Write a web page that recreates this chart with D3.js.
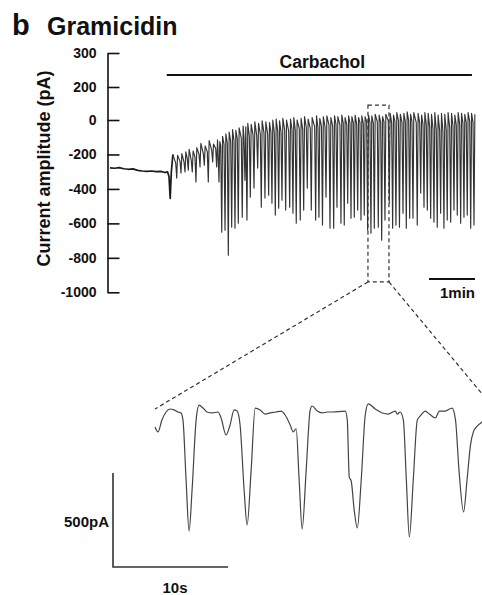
<!DOCTYPE html>
<html><head><meta charset="utf-8">
<script src="https://cdn.jsdelivr.net/npm/d3@7"></script>
<style>
html,body{margin:0;padding:0;background:#fff;}
text{font-family:"Liberation Sans",Arial,Helvetica,sans-serif;font-weight:bold;fill:#111;}
</style></head>
<body>
<script>
// ---------- data ----------
const yTickValues = [300, 200, 0, -200, -400, -600, -800, -1000];
// baseline before carbachol (time s, current pA)
const preT = [0, 6, 12, 18, 24, 30, 36, 42, 48, 54, 60, 66, 72, 75, 77, 78.5, 80, 82];
const preV = [-278, -280, -276, -283, -286, -284, -292, -296, -298, -296, -300, -298, -305, -300, -330, -455, -300, -200];
// spikes after carbachol
const spikeT = [87, 92.6, 97.8, 102.1, 107.3, 112.1, 117.4, 123, 128.2, 133.9, 139.1, 142.1, 145.7, 150, 154.3, 158.7, 163, 167.3, 172.5, 176,
  178.6, 183, 187.8, 192.6, 197.3, 202.1, 206.9, 211.2, 215.6, 220, 224.3, 229.1, 234.3, 238.6, 242.9, 248.1, 252.6, 257.3, 262.5, 268.2,
  272.5, 277.1, 281.7, 286.9, 291.7, 296, 301.2, 305.5, 310, 314.3, 318.6, 323, 327.3, 331.6, 336, 340.3, 344.7, 349.9, 354.3, 358.6,
  364.2, 368.6, 372.9, 377.5, 382.1, 386.4, 390.8, 395.1, 400.7, 405.2, 409.5, 413.8, 418.2, 422.5, 426.8, 431.2, 435.5, 439.8, 444.3, 448.6,
  452.9, 457.3, 461.6, 465.9, 470.4, 474.7];
const spikeMin = [-337, -308, -302, -291, -302, -360, -273, -262, -360, -244, -273, -360, -651, -640, -785, -622, -628, -599, -564, -349,
  -581, -448, -395, -279, -506, -453, -436, -483, -552, -512, -465, -523, -506, -541, -599, -581, -523, -395, -523, -581,
  -564, -610, -448, -628, -628, -506, -599, -610, -483, -570, -564, -523, -581, -552, -640, -657, -628, -622, -698, -581,
  -483, -628, -610, -622, -541, -628, -570, -570, -610, -424, -506, -523, -570, -593, -622, -541, -628, -581, -593, -523,
  -552, -599, -564, -552, -628, -610];
const spikeBase = [-250, -240, -245, -225, -235, -215, -200, -195, -185, -175, -165, -170, -150, -140, -135, -125, -120, -110, -105, -100,
  -100, -95, -85, -90, -80, -75, -80, -70, -75, -65, -70, -60, -65, -55, -60, -50, -55, -45, -50, -40,
  -45, -35, -40, -30, -35, -25, -30, -20, -25, -20, -15, -25, -15, -20, -10, -15, -20, -10, -15, -10,
  -5, -15, -10, -5, -15, -10, -5, -10, -15, -20, -25, -30, -40, -50, -55, -60, -70, -60, -45, -35,
  -30, -25, -20, -15, -10, -15];
const spikePeak = [-205, -195, -185, -170, -180, -160, -135, -150, -120, -140, -115, -125, -95, -80, -70, -55, -60, -45, -35, -40,
  -20, -25, -10, -20, -5, -10, -15, 0, 5, -5, 10, 0, 5, 15, 0, 10, 20, 5, 15, 25,
  10, 20, 25, 15, 25, 20, 30, 15, 25, 20, 30, 15, 25, 20, 30, 25, 35, 30, 20, 35,
  40, 30, 45, 35, 40, 50, 35, 45, 40, 30, 45, 40, 35, 45, 30, 40, 35, 45, 40, 30,
  45, 40, 35, 45, 40, 35];
const carbachol = [74, 472];
const zoomWindow = [336.4, 363.8];
const zoomCurrent = [90, -940];
const scaleBarMain = [416, 476]; // 1 min
// expanded trace (time s within window, current pA)
const insetT = [0, 0.26, 0.6, 0.96, 1.3, 1.65, 2.0, 2.26, 2.43, 2.7, 2.96, 3.22, 3.57, 3.83, 4.17, 4.52, 4.96, 5.48, 5.74, 6.17,
  6.52, 6.87, 7.13, 7.39, 7.74, 8.0, 8.35, 8.7, 9.13, 9.57, 10.0, 10.5, 10.96, 11.3, 11.74, 12.0, 12.26, 12.52, 12.78, 13.13,
  13.48, 13.65, 14.09, 14.52, 14.96, 15.39, 16.52, 16.7, 16.87, 17.04, 17.3, 17.57, 17.91, 18.26, 18.52, 19.13, 19.74, 20.26, 20.87, 21.04,
  21.3, 21.57, 21.83, 22.09, 22.43, 22.78, 23.04, 23.48, 23.83, 24.35, 24.7, 25.2, 25.8, 26.1, 26.4, 26.8, 27.1, 27.4, 27.65, 28.0, 28.4, 28.87];
const insetV = [-80, -106, -43, 0, 16, 11, 0, -5, -43, -362, -633, -415, -43, 37, 21, 0, -5, 0, -32, -122,
  -69, 11, 5, -69, -415, -601, -309, 21, 11, -11, -5, 0, 5, -16, -69, -106, -90, -362, -622, -309,
  11, 32, 5, -5, 0, 0, 5, -43, -346, -367, -521, -617, -362, -16, 43, 16, -5, -11, 5, -11,
  0, -43, -362, -665, -362, -43, -21, 5, -11, -32, 5, 5, 21, -43, -309, -532, -362, -176, -106, -74, -53, -16];
const insetScaleBar = { current: 500, time: 10 };

// ---------- drawing ----------
const W = 482, H = 595;
const svg = d3.select("body").append("svg").attr("width", W).attr("height", H);

const x = d3.scaleLinear().domain([0, 476]).range([110, 475]);
const y = d3.scaleLinear().domain([-1000, 0, 200, 300]).range([292.3, 120, 87, 53]);

// title
svg.append("text").attr("x", 12).attr("y", 35).style("font-size", "29px").text("b");
svg.append("text").attr("x", 47).attr("y", 35).style("font-size", "25px").text("Gramicidin");

// y axis
const axisX = 107.5;
const yAxis = d3.axisLeft(y).tickValues(yTickValues).tickSizeInner(-12).tickSizeOuter(0).tickPadding(11).tickFormat(d => String(d));
const ga = svg.append("g").attr("transform", `translate(${axisX},0)`).call(yAxis);
ga.select(".domain").attr("stroke", "#111").attr("stroke-width", 1.6);
ga.selectAll(".tick line").attr("stroke", "#111").attr("stroke-width", 1.6);
ga.selectAll(".tick text").style("font-size", "14px").style("font-weight", "bold").attr("fill", "#111")
  .style("font-family", '"Liberation Sans",Arial,sans-serif');

svg.append("text").attr("transform", `translate(50,${(53 + 292) / 2 - 4}) rotate(-90)`)
  .attr("text-anchor", "middle").style("font-size", "18px").text("Current amplitude (pA)");

// carbachol bar
svg.append("line").attr("x1", x(carbachol[0])).attr("x2", x(carbachol[1])).attr("y1", 75).attr("y2", 75)
  .attr("stroke", "#111").attr("stroke-width", 2.2);
svg.append("text").attr("x", (x(carbachol[0]) + x(carbachol[1])) / 2 + 3).attr("y", 68).attr("text-anchor", "middle")
  .style("font-size", "17.5px").text("Carbachol");

// main trace
const line = d3.line().x(d => x(d[0])).y(d => y(d[1]));
const prePts = preT.map((t, i) => [t, preV[i]]);
const pts = [];
spikeT.forEach((t, i) => {
  pts.push([t - 1.3, spikeBase[i]]);
  pts.push([t, spikeMin[i]]);
  pts.push([t + 1.1, spikePeak[i]]);
});
svg.append("path").datum(prePts).attr("d", line).attr("fill", "none")
  .attr("stroke", "#1a1a1a").attr("stroke-width", 1.7).attr("stroke-linejoin", "round");
svg.append("path").datum([prePts[prePts.length - 1]].concat(pts)).attr("d", line).attr("fill", "none")
  .attr("stroke", "#333").attr("stroke-width", 1.15).attr("stroke-linejoin", "round");

// 1 min scale bar
svg.append("line").attr("x1", x(scaleBarMain[0])).attr("x2", x(scaleBarMain[1])).attr("y1", 279).attr("y2", 279)
  .attr("stroke", "#111").attr("stroke-width", 2);
svg.append("text").attr("x", x(scaleBarMain[1])).attr("y", 298).attr("text-anchor", "end").style("font-size", "15px").text("1min");

// inset scales
const xi = d3.scaleLinear().domain([0, 28.4]).range([155, 482]);
const yi = d3.scaleLinear().domain([-500, 0]).range([506, 412]);

// dashed zoom box and connectors
const dash = { stroke: "#333", "stroke-width": 1.2, "stroke-dasharray": "4,3", fill: "none" };
const bx0 = x(zoomWindow[0]), bx1 = x(zoomWindow[1]), by0 = y(zoomCurrent[0]), by1 = y(zoomCurrent[1]);
const box = svg.append("rect").attr("x", bx0).attr("y", by0).attr("width", bx1 - bx0).attr("height", by1 - by0);
Object.entries(dash).forEach(([k, v]) => box.attr(k, v));
const c1 = svg.append("line").attr("x1", bx0).attr("y1", by1).attr("x2", xi(0)).attr("y2", yi(16));
const c2 = svg.append("line").attr("x1", bx1).attr("y1", by1).attr("x2", xi(29.5)).attr("y2", yi(16));
[c1, c2].forEach(l => Object.entries(dash).forEach(([k, v]) => l.attr(k, v)));

// inset trace
const ipts = insetT.map((t, i) => [t, insetV[i]]);
const iline = d3.line().x(d => xi(d[0])).y(d => yi(d[1])).curve(d3.curveMonotoneX);
svg.append("path").datum(ipts).attr("d", iline).attr("fill", "none")
  .attr("stroke", "#444").attr("stroke-width", 1.2);

// inset scale bars
const sbx = 113, sby = 567;
svg.append("path")
  .attr("d", `M${sbx},${sby - (yi(-insetScaleBar.current) - yi(0))}V${sby}H${sbx + (xi(insetScaleBar.time) - xi(0))}`)
  .attr("fill", "none").attr("stroke", "#333").attr("stroke-width", 1.6);
svg.append("text").attr("x", 109).attr("y", 527).attr("text-anchor", "end").style("font-size", "15px").text("500pA");
svg.append("text").attr("x", 175).attr("y", 593).attr("text-anchor", "middle").style("font-size", "15px").text("10s");
</script>
</body></html>
